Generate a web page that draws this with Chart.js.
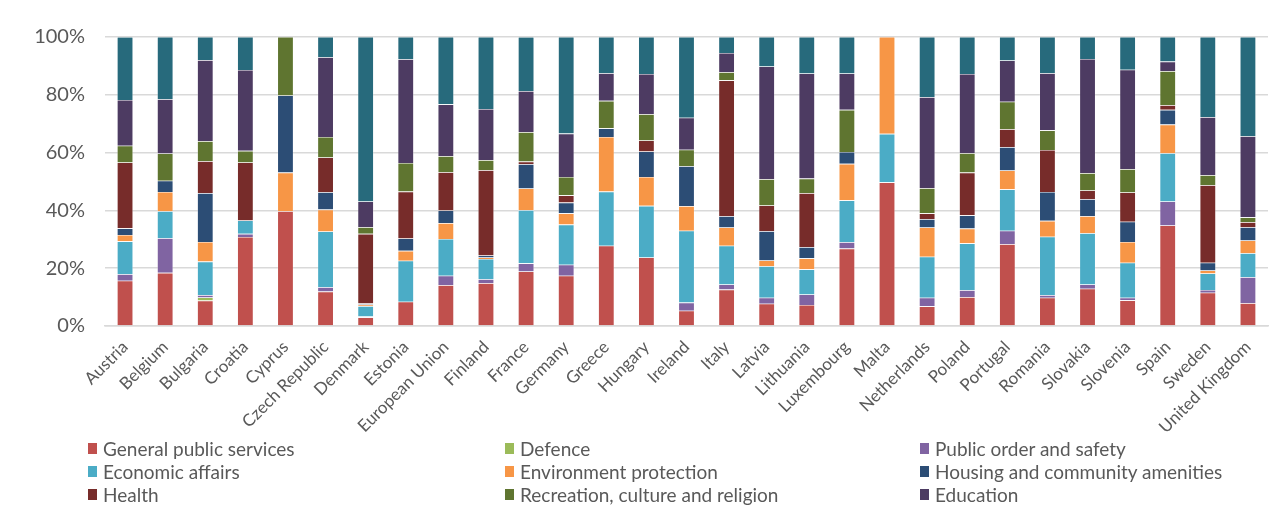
<!DOCTYPE html>
<html>
<head>
<meta charset="utf-8">
<script src="https://cdn.jsdelivr.net/npm/chart.js@4.4.1/dist/chart.umd.min.js"></script>
<style>
  html, body { margin: 0; padding: 0; background: #fff; overflow: hidden; }
  body { width: 1285px; height: 515px; position: relative; font-family: Lato, "Open Sans", sans-serif; }
  #wrap { position: absolute; left: 0; top: 0; width: 1285px; height: 440px; }
  #legend { position: absolute; left: 88px; top: 437px; display: grid; height: 72px; overflow: hidden;
            grid-template-columns: 417px 415px 360px; grid-auto-rows: 23px;
            font-size: 19px; color: #595959; }
  .item { display: flex; align-items: center; white-space: nowrap; }
  .box { width: 9px; height: 11px; margin-right: 6px; }
</style>
</head>
<body>
<div id="wrap"><canvas id="chart"></canvas></div>
<div id="legend"></div>
<script>
const countries = ['Austria', 'Belgium', 'Bulgaria', 'Croatia', 'Cyprus', 'Czech Republic', 'Denmark',
  'Estonia', 'European Union', 'Finland', 'France', 'Germany', 'Greece', 'Hungary', 'Ireland', 'Italy',
  'Latvia', 'Lithuania', 'Luxembourg', 'Malta', 'Netherlands', 'Poland', 'Portugal', 'Romania',
  'Slovakia', 'Slovenia', 'Spain', 'Sweden', 'United Kingdom'];

// shares (%) per function, same order as countries
const generalPublic = [15.7, 18.4, 8.8, 30.8, 39.7, 11.9, 3.0, 8.4, 14.1, 14.8, 18.9, 17.4, 27.8, 23.7, 5.3, 12.6, 7.7, 7.3, 26.8, 49.7, 6.8, 10.0, 28.3, 9.8, 12.9, 8.9, 34.8, 11.5, 7.9];
const defence = [0, 0, 1.1, 0, 0, 0, 0, 0, 0, 0, 0, 0, 0, 0, 0, 0, 0, 0, 0, 0, 0, 0, 0, 0, 0, 0, 0, 0, 0];
const publicOrder = [2.2, 12.0, 0.8, 1.1, 0, 1.5, 0.3, 0, 3.3, 1.4, 2.8, 3.8, 0, 0, 2.8, 1.8, 2.1, 3.6, 2.2, 0, 3.0, 2.4, 4.7, 0.9, 1.5, 0.9, 8.3, 1.0, 9.0];
const economic = [11.4, 9.3, 11.6, 4.6, 0, 19.3, 3.6, 14.2, 12.7, 7.0, 18.4, 13.9, 18.7, 17.9, 24.9, 13.4, 10.9, 8.7, 14.5, 16.8, 14.2, 16.2, 14.3, 20.2, 17.7, 12.1, 16.7, 5.7, 8.3];
const environment = [2.2, 6.7, 6.8, 0, 13.4, 7.6, 0.5, 3.4, 5.5, 0.5, 7.5, 3.9, 18.9, 10.0, 8.5, 6.3, 2.0, 3.8, 12.6, 33.5, 10.1, 5.1, 6.5, 5.5, 5.9, 7.2, 9.9, 1.0, 4.4];
const housing = [2.3, 3.9, 16.9, 0, 26.7, 6.0, 0.4, 4.3, 4.4, 0.7, 8.4, 3.7, 3.0, 8.8, 13.8, 3.9, 10.1, 3.9, 4.1, 0, 2.9, 4.6, 8.1, 10.0, 5.9, 7.0, 5.1, 2.7, 4.6];
const health = [22.8, 0, 11.0, 20.1, 0, 12.0, 24.1, 16.2, 13.2, 29.5, 0.9, 2.5, 0, 3.8, 0, 47.0, 8.9, 18.7, 0, 0, 2.0, 14.8, 6.2, 14.5, 3.0, 10.1, 1.6, 26.8, 1.7];
const recreation = [5.8, 9.4, 7.0, 4.0, 20.2, 7.1, 2.3, 9.9, 5.6, 3.5, 10.2, 6.4, 9.5, 9.1, 5.7, 2.8, 9.1, 5.0, 14.6, 0, 8.7, 6.7, 9.5, 6.8, 6.0, 8.1, 11.8, 3.5, 1.7];
const education = [15.8, 18.8, 28.0, 28.0, 0, 27.6, 8.9, 35.9, 17.9, 17.7, 14.2, 15.0, 9.6, 13.9, 11.1, 6.7, 39.0, 36.4, 12.6, 0, 31.5, 27.4, 14.3, 19.8, 39.5, 34.4, 3.3, 20.1, 28.1];
const social = [21.8, 21.5, 8.0, 11.4, 0, 7.0, 56.9, 7.7, 23.3, 24.9, 18.7, 33.4, 12.5, 12.8, 27.9, 5.5, 10.2, 12.6, 12.6, 0, 20.8, 12.8, 8.1, 12.5, 7.6, 11.3, 8.5, 27.7, 34.3];

const yTicks = [0, 20, 40, 60, 80, 100];

const series = [
  ['General public services', generalPublic, '#C0504D'],
  ['Defence', defence, '#9BBB59'],
  ['Public order and safety', publicOrder, '#8064A2'],
  ['Economic affairs', economic, '#4BACC6'],
  ['Environment protection', environment, '#F79646'],
  ['Housing and community amenities', housing, '#2C4D75'],
  ['Health', health, '#772C2A'],
  ['Recreation, culture and religion', recreation, '#5F7530'],
  ['Education', education, '#4D3B62'],
  ['Social protection', social, '#276A7C']
];

const ctx = document.getElementById('chart').getContext('2d');
new Chart(ctx, {
  type: 'bar',
  data: {
    labels: countries,
    datasets: series.map(s => ({
      label: s[0],
      data: s[1],
      backgroundColor: s[2],
      borderColor: 'rgba(255,255,255,0.45)',
      borderWidth: 0.6,
      barPercentage: 0.4,
      categoryPercentage: 1
    }))
  },
  options: {
    responsive: true,
    maintainAspectRatio: false,
    animation: false,
    layout: { padding: { left: 10, right: 17, top: 37, bottom: 0 } },
    plugins: { legend: { display: false }, tooltip: { enabled: false } },
    scales: {
      x: {
        stacked: true,
        grid: { display: false },
        border: { color: '#d9d9d9', width: 1.5 },
        ticks: { minRotation: 45, maxRotation: 45, autoSkip: false, color: '#595959',
                 font: { family: 'Lato', size: 17 } },
        afterFit: s => { s.height = 114; }
      },
      y: {
        stacked: true,
        min: 0, max: 100,
        afterBuildTicks: s => { s.ticks = yTicks.map(v => ({ value: v })); },
        grid: { color: '#d9d9d9', lineWidth: 1.5, drawTicks: false },
        border: { display: false },
        ticks: { padding: 20, color: '#595959', font: { family: 'Lato', size: 20 },
                 callback: v => v + '%' },
        afterFit: s => { s.width = 95; }
      }
    }
  }
});

const legend = document.getElementById('legend');
series.forEach(s => {
  const d = document.createElement('div');
  d.className = 'item';
  d.innerHTML = '<span class="box" style="background:' + s[2] + '"></span>' + s[0];
  legend.appendChild(d);
});
</script>
</body>
</html>
